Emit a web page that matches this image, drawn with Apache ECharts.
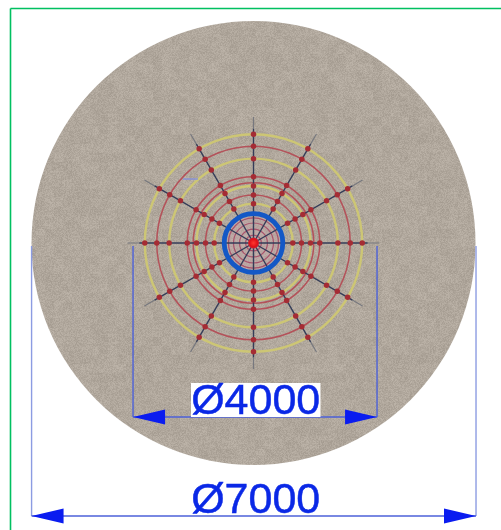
<!DOCTYPE html>
<html>
<head>
<meta charset="utf-8">
<style>
html,body{margin:0;padding:0;background:#fff}
#c{width:501px;height:530px;filter:blur(0.6px)}
</style>
<script src="https://cdn.jsdelivr.net/npm/echarts@6/dist/echarts.min.js"></script>
</head>
<body>
<div id="c"></div>
<script>
// Values, in millimetres / degrees
var baseDiameter = [7000];
var spokeAngles = [0, 30, 60, 90, 120, 150, 180, 210, 240, 270, 300, 330];
var spokeLength = [1985];
var spokeFadeStart = [1800];
var knotRadii = [620, 757, 899, 1045, 1330, 1525, 1714];
var yellowRings = [620, 899, 1330, 1714];
var redRings = [757, 951, 1045, 1525];
var hubRing = [462];
var hubInnerRings = [125, 220, 315, 395];
var dimensionLabels = ['Ø4000', 'Ø7000'];
var dimensionStart = [-1900, -3500];
var dimensionEnd = [1948, 3509];
var dimensionLevel = [-2744, -4305];

var chart = echarts.init(document.getElementById('c'), null, {renderer: 'canvas'});

// gravel surface texture (fixed hash, purely a fill style)
function gravel() {
  var n = 220, cv = document.createElement('canvas');
  cv.width = cv.height = n;
  var g = cv.getContext('2d'), im = g.createImageData(n, n);
  function h(a, b) { var s = Math.sin(a * 127.1 + b * 311.7) * 43758.5453; return s - Math.floor(s); }
  for (var y = 0; y < n; y++) for (var x = 0; x < n; x++) {
    var coarseX = Math.floor(x / 9), coarseY = Math.floor(y / 9);
    var v = (h(x, y) - 0.5) * 20 + (h(coarseX + 50, coarseY + 9) - 0.5) * 7;
    var i = (y * n + x) * 4;
    im.data[i] = 176 + v; im.data[i + 1] = 167 + v; im.data[i + 2] = 156 + v; im.data[i + 3] = 255;
  }
  g.putImageData(im, 0, 0);
  return cv;
}

function ringSeries(list, color, width, z) {
  return {
    type: 'custom', coordinateSystem: 'polar', z: z, silent: true,
    data: list.map(function (r) { return [r, 0]; }),
    renderItem: function (params, api) {
      var c = api.coord([0, 0]), p = api.coord([api.value(0), 0]);
      return {
        type: 'circle',
        shape: {cx: c[0], cy: c[1], r: Math.abs(c[1] - p[1])},
        style: {fill: 'none', stroke: color, lineWidth: width}
      };
    }
  };
}
function discSeries(list, fill, z) {
  return {
    type: 'custom', coordinateSystem: 'polar', z: z, silent: true,
    data: list.map(function (r) { return [r, 0]; }),
    renderItem: function (params, api) {
      var c = api.coord([0, 0]), p = api.coord([api.value(0), 0]);
      return {
        type: 'circle',
        shape: {cx: c[0], cy: c[1], r: Math.abs(c[1] - p[1])},
        style: {fill: fill}
      };
    }
  };
}
function spokeSeries(from, to, color, width, z) {
  return spokeAngles.map(function (a) {
    return {
      type: 'line', coordinateSystem: 'polar', z: z, silent: true, symbol: 'none',
      lineStyle: {color: color, width: width},
      data: [[from, a], [to, a]]
    };
  });
}
var knots = [];
knotRadii.forEach(function (r) { spokeAngles.forEach(function (a) { knots.push([r, a]); }); });

function dimensionSeries() {
  return {
    type: 'custom', coordinateSystem: 'cartesian2d', z: 20, silent: true,
    data: dimensionLabels.map(function (l, i) { return [dimensionStart[i], dimensionEnd[i], dimensionLevel[i], i]; }),
    renderItem: function (params, api) {
      var i = api.value(3);
      var a = api.coord([api.value(0), api.value(2)]);
      var b = api.coord([api.value(1), api.value(2)]);
      var o = api.coord([0, 0]);
      var line = i === 0 ? '#4c60d8' : '#8c9ce2';
      var mid = 255.7, kids = [];
      kids.push({type: 'line', shape: {x1: a[0], y1: o[1] + 3, x2: a[0], y2: a[1]}, style: {stroke: line, lineWidth: 1.4}});
      kids.push({type: 'line', shape: {x1: b[0], y1: o[1] + 3, x2: b[0], y2: b[1]}, style: {stroke: line, lineWidth: 1.4}});
      kids.push({type: 'line', shape: {x1: a[0], y1: a[1], x2: b[0], y2: b[1]}, style: {stroke: '#4c60d8', lineWidth: 1.3}});
      kids.push({type: 'polygon', shape: {points: [[a[0], a[1]], [a[0] + 32, a[1] - 7.5], [a[0] + 32, a[1] + 7.5]]}, style: {fill: '#0a1cf0'}});
      kids.push({type: 'polygon', shape: {points: [[b[0], b[1]], [b[0] - 32, b[1] - 7.5], [b[0] - 32, b[1] + 7.5]]}, style: {fill: '#0a1cf0'}});
      if (i === 0) kids.push({type: 'rect', shape: {x: mid - 64.7, y: a[1] - 34, width: 129.5, height: 34}, style: {fill: '#ffffff'}});
      kids.push({type: 'text', style: {
        x: mid, y: a[1] - 14.5, text: dimensionLabels[i], align: 'center', verticalAlign: 'middle',
        font: '43px "Liberation Sans", Arial, sans-serif', fill: '#0a28e6', stroke: '#0a28e6', lineWidth: 0.5
      }});
      return {type: 'group', children: kids};
    }
  };
}

var series = [];
series.push({
  type: 'custom', coordinateSystem: 'polar', z: 1, silent: true,
  data: baseDiameter.map(function (d) { return [d / 2, 0]; }),
  renderItem: function (params, api) {
    var c = api.coord([0, 0]), p = api.coord([api.value(0), 0]);
    return {type: 'circle', shape: {cx: c[0], cy: c[1], r: Math.abs(c[1] - p[1])},
      style: {fill: {image: gravel(), repeat: 'repeat'}}};
  }
});
series.push(ringSeries(yellowRings, '#cdc674', 2.4, 3));
series.push(ringSeries(redRings, '#b4525a', 1.5, 4));
series.push(discSeries(hubRing, 'rgba(205,165,175,0.35)', 5));
series.push(ringSeries(hubInnerRings, '#a8506a', 1.2, 6));
series = series.concat(spokeSeries(spokeFadeStart[0], spokeLength[0], '#77787e', 1.2, 7));
series = series.concat(spokeSeries(0, spokeFadeStart[0], '#343c58', 1.4, 8));
series.push({
  type: 'scatter', coordinateSystem: 'polar', z: 9, silent: true, symbol: 'circle', symbolSize: 5.5,
  itemStyle: {color: '#a52c34', opacity: 1}, data: knots
});
series.push(ringSeries(hubRing, '#1358c6', 4.8, 10));
series.push({
  type: 'scatter', coordinateSystem: 'polar', z: 11, silent: true, symbol: 'circle', symbolSize: 11,
  itemStyle: {opacity: 1, color: new echarts.graphic.RadialGradient(0.5, 0.5, 0.5, [
    {offset: 0, color: '#ff3a30'}, {offset: 0.7, color: '#e01018'}, {offset: 1, color: '#c02a3a'}])},
  data: [[0, 0]]
});
series.push({
  type: 'line', coordinateSystem: 'cartesian2d', z: 12, silent: true, symbol: 'none',
  lineStyle: {color: '#8492e0', width: 1.3}, data: [[-1112, 1009], [-875, 1009]]
});
series.push(dimensionSeries());

chart.setOption({
  animation: false,
  backgroundColor: '#ffffff',
  polar: {center: [253.5, 243], radius: 222},
  radiusAxis: {min: 0, max: 3500, show: false},
  angleAxis: {min: 0, max: 360, show: false, startAngle: 90},
  grid: {left: 0, top: 0, width: 501, height: 530},
  xAxis: {type: 'value', min: -3998, max: 3903, show: false},
  yAxis: {type: 'value', min: -4526, max: 3832, show: false},
  graphic: [
    {type: 'line', shape: {x1: 10.5, y1: 8.5, x2: 501, y2: 8.5}, style: {stroke: '#00c060', lineWidth: 1.6}, z: 30},
    {type: 'line', shape: {x1: 10.5, y1: 8.5, x2: 10.5, y2: 530}, style: {stroke: '#00c060', lineWidth: 1.6}, z: 30}
  ],
  series: series
});
</script>
</body>
</html>
